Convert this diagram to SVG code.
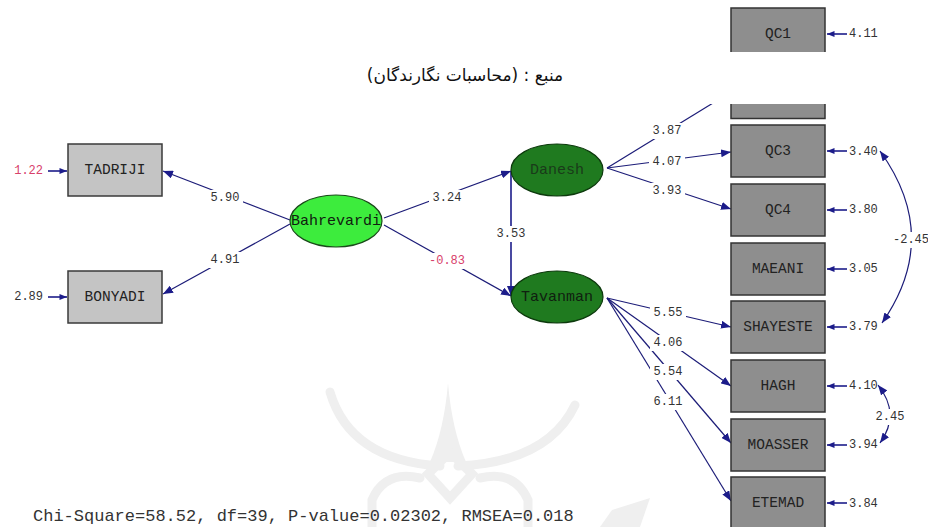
<svg xmlns="http://www.w3.org/2000/svg" width="928" height="527" viewBox="0 0 928 527">
<style>
.bg{fill:#ffffff}
.wm{fill:none;stroke:#efefef;stroke-width:9;stroke-linecap:round}
.wmf{fill:#efefef}
.boxL{fill:#c4c4c4;stroke:#3a3a3a;stroke-width:1.5}
.boxR{fill:#8e8e8e;stroke:#333333;stroke-width:1.5}
.btxt{font-family:"Liberation Mono",monospace;font-size:14.5px;fill:#222222;text-anchor:middle;dominant-baseline:central}
.eBright{fill:#3dec3d;stroke:#1a4a1a;stroke-width:1.2}
.eDark{fill:#1f7a1f;stroke:#0d3a0d;stroke-width:1.2}
.etxt{font-family:"Liberation Mono",monospace;font-size:15px;fill:#102010;text-anchor:middle;dominant-baseline:central}
.ln{fill:none;stroke:#1c1c78;stroke-width:1.2}
.lnB{fill:none;stroke:#1c1c8a;stroke-width:1.6}
.lb{fill:#ffffff}
.lbl{font-family:"Liberation Mono",monospace;font-size:12px;fill:#333333;text-anchor:middle;dominant-baseline:central}
.err{font-family:"Liberation Mono",monospace;font-size:12px;fill:#333333;dominant-baseline:central}
.red{fill:#d8406a}
.cap{font-family:"DejaVu Sans","Noto Sans",sans-serif;font-size:17px;fill:#111111;text-anchor:middle}
.fit{font-family:"Liberation Mono",monospace;font-size:17px;fill:#333333}
</style>
<defs>
<marker id="ah" viewBox="0 0 10 8" refX="10" refY="4" markerWidth="10" markerHeight="8" markerUnits="userSpaceOnUse" orient="auto-start-reverse">
<path d="M0,0 L10,4 L0,8 Z" fill="#1c1c8a"/>
</marker>
<marker id="ahs" viewBox="0 0 10 8" refX="10" refY="4" markerWidth="9" markerHeight="6" markerUnits="userSpaceOnUse" orient="auto">
<path d="M0,0 L10,4 L0,8 Z" fill="#1c1c8a"/>
</marker>
</defs>
<rect class="bg" x="0" y="0" width="928" height="527"/>

<g id="watermark">
<path class="wmf" d="M448,383 Q444,430 430,462 L466,462 Q452,430 448,383 Z"/>
<path class="wm" d="M330,392 Q350,460 440,466"/>
<path class="wm" d="M575,405 Q548,462 458,466"/>
<path class="wm" d="M450,452 L472,474 L450,498 L428,474 Z"/>
<path class="wm" d="M372,527 L372,500 Q385,470 420,478"/>
<path class="wm" d="M528,527 L528,500 Q515,470 480,478"/>
<path class="wmf" d="M600,527 L612,510 L650,498 L640,527 Z"/>
</g>

<g id="connectors">
<line class="ln" x1="290" y1="220" x2="163" y2="171" marker-end="url(#ah)"/>
<line class="ln" x1="290" y1="224" x2="163" y2="294" marker-end="url(#ah)"/>
<line class="ln" x1="384" y1="218" x2="511" y2="171" marker-end="url(#ah)"/>
<line class="ln" x1="384" y1="225" x2="511" y2="296" marker-end="url(#ah)"/>
<line class="lnB" x1="511" y1="171" x2="511" y2="296" marker-end="url(#ah)"/>
<line class="ln" x1="607" y1="168" x2="731" y2="92"/>
<line class="ln" x1="607" y1="168" x2="731" y2="152" marker-end="url(#ah)"/>
<line class="ln" x1="607" y1="168" x2="731" y2="209" marker-end="url(#ah)"/>
<line class="ln" x1="607" y1="298" x2="731" y2="327" marker-end="url(#ah)"/>
<line class="ln" x1="607" y1="298" x2="731" y2="386" marker-end="url(#ah)"/>
<line class="ln" x1="607" y1="298" x2="731" y2="443" marker-end="url(#ah)"/>
<line class="ln" x1="607" y1="298" x2="731" y2="501" marker-end="url(#ah)"/>
<path class="ln" d="M880,151 Q942,237 882,323" marker-start="url(#ah)" marker-end="url(#ah)"/>
<path class="ln" d="M878,385 Q901,414 880,443" marker-start="url(#ah)" marker-end="url(#ah)"/>
<line class="lnB" x1="48" y1="171" x2="67" y2="171" marker-end="url(#ahs)"/>
<line class="lnB" x1="48" y1="297" x2="67" y2="297" marker-end="url(#ahs)"/>
<line class="lnB" x1="847" y1="34" x2="827" y2="34" marker-end="url(#ahs)"/>
<line class="lnB" x1="847" y1="151" x2="827" y2="151" marker-end="url(#ahs)"/>
<line class="lnB" x1="847" y1="210" x2="827" y2="210" marker-end="url(#ahs)"/>
<line class="lnB" x1="847" y1="269" x2="827" y2="269" marker-end="url(#ahs)"/>
<line class="lnB" x1="847" y1="327" x2="827" y2="327" marker-end="url(#ahs)"/>
<line class="lnB" x1="847" y1="386" x2="827" y2="386" marker-end="url(#ahs)"/>
<line class="lnB" x1="847" y1="445" x2="827" y2="445" marker-end="url(#ahs)"/>
<line class="lnB" x1="847" y1="503" x2="827" y2="503" marker-end="url(#ahs)"/>
<rect class="lb" x="207" y="190" width="36" height="16"/>
<rect class="lb" x="207" y="252" width="36" height="16"/>
<rect class="lb" x="429" y="190" width="36" height="16"/>
<rect class="lb" x="425" y="253" width="44" height="16"/>
<rect class="lb" x="493" y="226" width="36" height="16"/>
<rect class="lb" x="649" y="123" width="36" height="16"/>
<rect class="lb" x="649" y="154" width="36" height="16"/>
<rect class="lb" x="649" y="183" width="36" height="16"/>
<rect class="lb" x="650" y="305" width="36" height="16"/>
<rect class="lb" x="650" y="335" width="36" height="16"/>
<rect class="lb" x="650" y="364" width="36" height="16"/>
<rect class="lb" x="650" y="394" width="36" height="16"/>
<rect class="lb" x="891" y="232" width="37" height="16"/>
<rect class="lb" x="873" y="409" width="34" height="16"/>
<text class="lbl" x="225" y="198">5.90</text>
<text class="lbl" x="225" y="260">4.91</text>
<text class="lbl" x="447" y="198">3.24</text>
<text class="lbl red" x="447" y="261">-0.83</text>
<text class="lbl" x="511" y="234">3.53</text>
<text class="lbl" x="667" y="131">3.87</text>
<text class="lbl" x="667" y="162">4.07</text>
<text class="lbl" x="667" y="191">3.93</text>
<text class="lbl" x="668" y="313">5.55</text>
<text class="lbl" x="668" y="343">4.06</text>
<text class="lbl" x="668" y="372">5.54</text>
<text class="lbl" x="668" y="402">6.11</text>
<text class="lbl" x="893" y="240" style="text-anchor:start">-2.45</text>
<text class="lbl" x="890" y="417">2.45</text>
<text class="err red" x="43" y="171" style="text-anchor:end">1.22</text>
<text class="err" x="43" y="297" style="text-anchor:end">2.89</text>
<text class="err" x="849" y="34">4.11</text>
<text class="err" x="849" y="152">3.40</text>
<text class="err" x="849" y="210">3.80</text>
<text class="err" x="849" y="269">3.05</text>
<text class="err" x="849" y="327">3.79</text>
<text class="err" x="849" y="386">4.10</text>
<text class="err" x="849" y="445">3.94</text>
<text class="err" x="849" y="504">3.84</text>
</g>

<g id="TADRIJI"><rect class="boxL" x="68" y="144" width="94" height="52"/><text class="btxt" x="115" y="170">TADRIJI</text></g>
<g id="BONYADI"><rect class="boxL" x="68" y="271" width="94" height="52"/><text class="btxt" x="115" y="297">BONYADI</text></g>

<g id="Bahrevardi"><ellipse class="eBright" cx="336" cy="221" rx="46" ry="26"/><text class="etxt" x="336" y="221">Bahrevardi</text></g>
<g id="Danesh"><ellipse class="eDark" cx="557" cy="170" rx="46" ry="26"/><text class="etxt" x="557" y="170" style="fill:#1a3a1a">Danesh</text></g>
<g id="Tavanman"><ellipse class="eDark" cx="557" cy="297" rx="46" ry="26"/><text class="etxt" x="557" y="297">Tavanman</text></g>

<g id="QC1"><rect class="boxR" x="731" y="8" width="94" height="52"/><text class="btxt" x="778" y="34">QC1</text></g>
<g id="QC2"><rect class="boxR" x="731" y="66.5" width="94" height="52"/></g>
<g id="QC3"><rect class="boxR" x="731" y="125" width="94" height="52"/><text class="btxt" x="778" y="151">QC3</text></g>
<g id="QC4"><rect class="boxR" x="731" y="184" width="94" height="52"/><text class="btxt" x="778" y="210">QC4</text></g>
<g id="MAEANI"><rect class="boxR" x="731" y="243" width="94" height="52"/><text class="btxt" x="778" y="269">MAEANI</text></g>
<g id="SHAYESTE"><rect class="boxR" x="731" y="301" width="94" height="52"/><text class="btxt" x="778" y="327">SHAYESTE</text></g>
<g id="HAGH"><rect class="boxR" x="731" y="360" width="94" height="52"/><text class="btxt" x="778" y="386">HAGH</text></g>
<g id="MOASSER"><rect class="boxR" x="731" y="419" width="94" height="52"/><text class="btxt" x="778" y="445">MOASSER</text></g>
<g id="ETEMAD"><rect class="boxR" x="731" y="477" width="94" height="52"/><text class="btxt" x="778" y="503">ETEMAD</text></g>

<rect class="bg" x="0" y="52" width="928" height="52"/>
<text class="cap" x="465" y="81" direction="rtl">منبع : (محاسبات نگارندگان)</text>
<text class="fit" x="33" y="521">Chi-Square=58.52, df=39, P-value=0.02302, RMSEA=0.018</text>
</svg>
